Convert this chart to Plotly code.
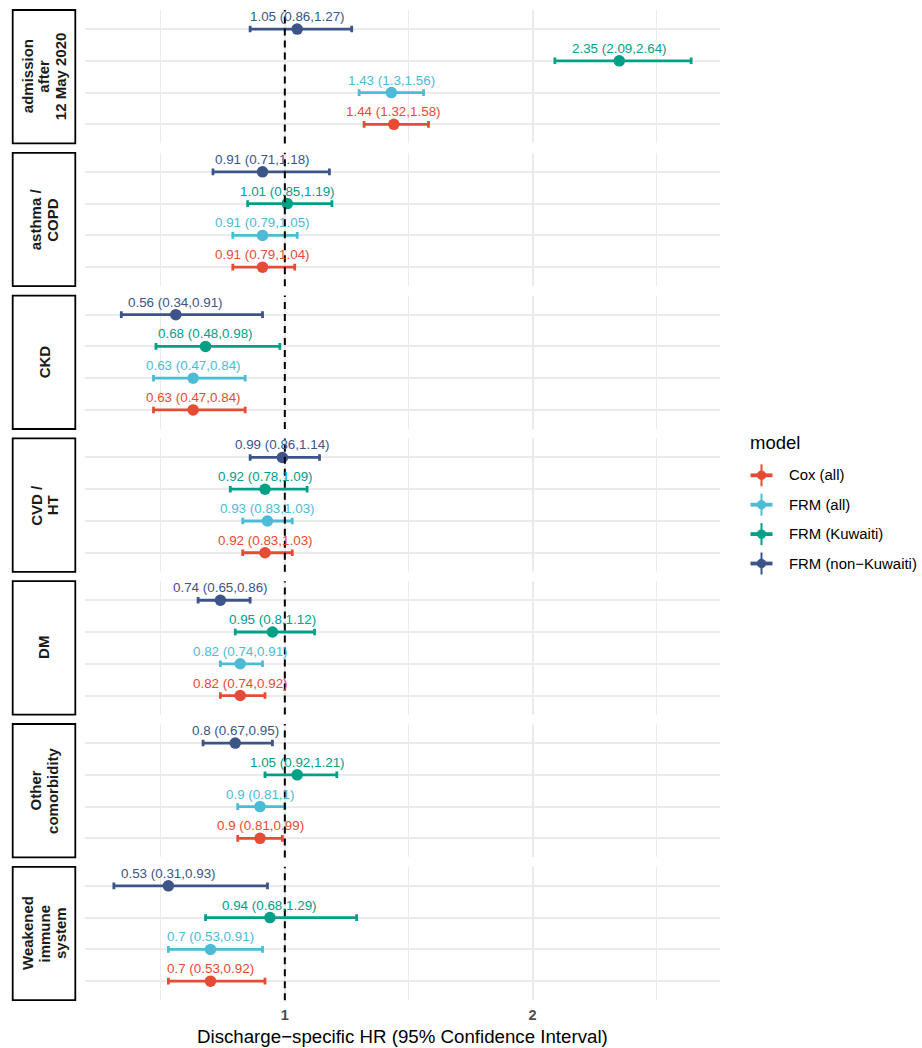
import plotly.graph_objects as go

# ---- data -----------------------------------------------------------------
groups = [
    "admission\nafter\n12 May 2020",
    "asthma /\nCOPD",
    "CKD",
    "CVD /\nHT",
    "DM",
    "Other\ncomorbidity",
    "Weakened\nimmune\nsystem",
]
models = ["Cox (all)", "FRM (all)", "FRM (Kuwaiti)", "FRM (non\u2212Kuwaiti)"]
colors = ["#E64B35", "#4DBBD5", "#00A087", "#3C5488"]

cox_hr = [1.44, 0.91, 0.63, 0.92, 0.82, 0.90, 0.70]
cox_lo = [1.32, 0.79, 0.47, 0.83, 0.74, 0.81, 0.53]
cox_hi = [1.58, 1.04, 0.84, 1.03, 0.92, 0.99, 0.92]

frm_all_hr = [1.43, 0.91, 0.63, 0.93, 0.82, 0.90, 0.70]
frm_all_lo = [1.30, 0.79, 0.47, 0.83, 0.74, 0.81, 0.53]
frm_all_hi = [1.56, 1.05, 0.84, 1.03, 0.91, 1.00, 0.91]

frm_kw_hr = [2.35, 1.01, 0.68, 0.92, 0.95, 1.05, 0.94]
frm_kw_lo = [2.09, 0.85, 0.48, 0.78, 0.80, 0.92, 0.68]
frm_kw_hi = [2.64, 1.19, 0.98, 1.09, 1.12, 1.21, 1.29]

frm_nk_hr = [1.05, 0.91, 0.56, 0.99, 0.74, 0.80, 0.53]
frm_nk_lo = [0.86, 0.71, 0.34, 0.86, 0.65, 0.67, 0.31]
frm_nk_hi = [1.27, 1.18, 0.91, 1.14, 0.86, 0.95, 0.93]

x_ticks = [1, 2]
x_minor = [0.5, 1.5, 2.5]
ref_line = 1

series = [
    (cox_hr, cox_lo, cox_hi),
    (frm_all_hr, frm_all_lo, frm_all_hi),
    (frm_kw_hr, frm_kw_lo, frm_kw_hi),
    (frm_nk_hr, frm_nk_lo, frm_nk_hi),
]

# ---- geometry (pixels) ----------------------------------------------------
W, H = 922, 1048
PANEL_L, PANEL_R = 85, 720
PANEL_TOP0, PANEL_STEP, PANEL_H = 10.0, 142.8, 133.4
STRIP_L, STRIP_R = 12.7, 75.3
FONT = "Liberation Sans, Arial, Helvetica, sans-serif"


def fx(p):
    return p / W


def fy(p):
    return 1 - p / H


def fmt(v):
    return "{:g}".format(round(v, 2))


all_lo = [v for s in series for v in s[1]]
all_hi = [v for s in series for v in s[2]]
span = max(all_hi) - min(all_lo)
x_range = [min(all_lo) - 0.05 * span, max(all_hi) + 0.05 * span]

fig = go.Figure()
shapes = []
annotations = []
layout_axes = {}

for g, label in enumerate(groups):
    n = g + 1
    sfx = "" if n == 1 else str(n)
    top = PANEL_TOP0 + g * PANEL_STEP
    bot = top + PANEL_H

    layout_axes["xaxis" + sfx] = dict(
        domain=[fx(PANEL_L), fx(PANEL_R)],
        anchor="y" + sfx,
        range=x_range,
        tickmode="array",
        tickvals=x_ticks,
        ticktext=[str(t) for t in x_ticks],
        showticklabels=(n == len(groups)),
        tickfont=dict(family=FONT, size=14.5, color="#4D4D4D", weight="bold"),
        ticks="",
        ticklabelstandoff=4,
        showgrid=True,
        gridcolor="#EBEBEB",
        gridwidth=1.6,
        minor=dict(tickmode="array", tickvals=x_minor, showgrid=True,
                   gridcolor="#EBEBEB", gridwidth=1.0),
        zeroline=False,
        showline=False,
        fixedrange=True,
    )
    layout_axes["yaxis" + sfx] = dict(
        domain=[fy(bot), fy(top)],
        anchor="x" + sfx,
        range=[0.4, len(models) + 0.6],
        tickmode="array",
        tickvals=list(range(1, len(models) + 1)),
        showticklabels=False,
        ticks="",
        showgrid=True,
        gridcolor="#EBEBEB",
        gridwidth=1.6,
        zeroline=False,
        showline=False,
        fixedrange=True,
    )

    for m, (name, col, (hr, lo, hi)) in enumerate(zip(models, colors, series)):
        level = m + 1
        fig.add_trace(go.Scatter(
            x=[hr[g]], y=[level],
            xaxis="x" + sfx, yaxis="y" + sfx,
            mode="markers",
            marker=dict(color=col, size=11.5, line=dict(width=0)),
            error_x=dict(type="data", symmetric=False,
                         array=[hi[g] - hr[g]], arrayminus=[hr[g] - lo[g]],
                         color=col, thickness=2.8, width=3.3),
            name=name, showlegend=False, hoverinfo="skip",
        ))
        annotations.append(dict(
            x=hr[g], y=level, xref="x" + sfx, yref="y" + sfx,
            text=f"{fmt(hr[g])} ({fmt(lo[g])},{fmt(hi[g])})",
            showarrow=False, yshift=12.5, xanchor="center", yanchor="middle",
            font=dict(family=FONT, size=13.4, color=col),
        ))

    # reference line at HR = 1
    shapes.append(dict(
        type="line", xref="x" + sfx, yref="y" + sfx + " domain",
        x0=ref_line, x1=ref_line, y0=0, y1=1,
        line=dict(color="black", width=2, dash="7px,5px"), layer="above",
    ))

    # facet strip on the left
    shapes.append(dict(
        type="rect", xref="paper", yref="paper",
        x0=fx(STRIP_L), x1=fx(STRIP_R), y0=fy(bot), y1=fy(top),
        line=dict(color="black", width=1.8), fillcolor="white", layer="above",
    ))
    lines = label.split("\n")
    cx = (STRIP_L + STRIP_R) / 2
    cy = (top + bot) / 2
    for k, ln in enumerate(lines):
        off = (k - (len(lines) - 1) / 2) * 16.5
        annotations.append(dict(
            x=fx(cx + off), y=fy(cy), xref="paper", yref="paper",
            text=f"<b>{ln}</b>", showarrow=False, textangle=-90,
            xanchor="center", yanchor="middle",
            font=dict(family=FONT, size=15, color="#1A1A1A"),
        ))

# x-axis title
annotations.append(dict(
    x=fx((PANEL_L + PANEL_R) / 2), y=fy(1036), xref="paper", yref="paper",
    text="Discharge\u2212specific HR (95% Confidence Interval)",
    showarrow=False, xanchor="center", yanchor="middle",
    font=dict(family=FONT, size=18.7, color="black"),
))

# legend
annotations.append(dict(
    x=fx(747.5), y=fy(443), xref="paper", yref="paper", text="model",
    showarrow=False, xanchor="left", yanchor="middle",
    font=dict(family=FONT, size=18.5, color="black"),
))
KEY_X, TEXT_X, KEY_Y0, KEY_STEP = 761.5, 786.5, 475.3, 29.4
for m, (name, col) in enumerate(zip(models, colors)):
    ky = KEY_Y0 + m * KEY_STEP
    shapes.append(dict(type="line", xref="paper", yref="paper",
                       x0=fx(KEY_X - 11), x1=fx(KEY_X + 11), y0=fy(ky), y1=fy(ky),
                       line=dict(color=col, width=3.8)))
    shapes.append(dict(type="line", xref="paper", yref="paper",
                       x0=fx(KEY_X), x1=fx(KEY_X), y0=fy(ky - 11), y1=fy(ky + 11),
                       line=dict(color=col, width=2)))
    shapes.append(dict(type="circle", xref="paper", yref="paper",
                       x0=fx(KEY_X - 4.7), x1=fx(KEY_X + 4.7),
                       y0=fy(ky + 4.7), y1=fy(ky - 4.7),
                       fillcolor=col, line=dict(width=0)))
    annotations.append(dict(
        x=fx(TEXT_X), y=fy(ky), xref="paper", yref="paper", text=name,
        showarrow=False, xanchor="left", yanchor="middle",
        font=dict(family=FONT, size=14.9, color="black"),
    ))

fig.update_layout(
    width=W, height=H,
    margin=dict(l=0, r=0, t=0, b=0),
    paper_bgcolor="white", plot_bgcolor="white",
    showlegend=False,
    shapes=shapes, annotations=annotations,
    font=dict(family=FONT),
    **layout_axes,
)

fig.write_html("out.html")
